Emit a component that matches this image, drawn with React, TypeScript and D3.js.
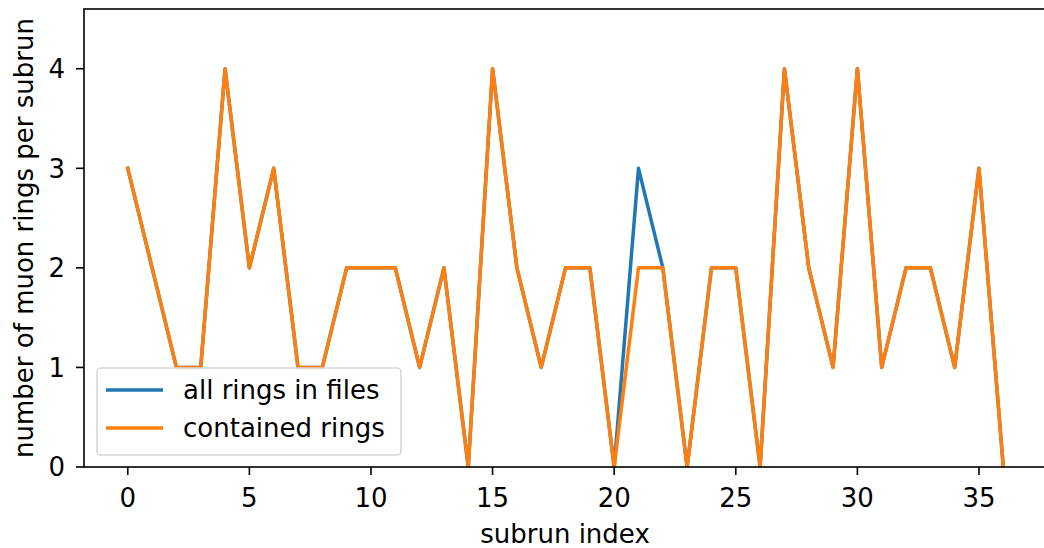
import React from "react";
import * as d3 from "d3";

const subrunIndex = d3.range(0, 37);
const allRings = [3, 2, 1, 1, 4, 2, 3, 1, 1, 2, 2, 2, 1, 2, 0, 4, 2, 1, 2, 2, 0, 3, 2, 0, 2, 2, 0, 4, 2, 1, 4, 1, 2, 2, 1, 3, 0];
const containedRings = [3, 2, 1, 1, 4, 2, 3, 1, 1, 2, 2, 2, 1, 2, 0, 4, 2, 1, 2, 2, 0, 2, 2, 0, 2, 2, 0, 4, 2, 1, 4, 1, 2, 2, 1, 3, 0];
const xTicks = [0, 5, 10, 15, 20, 25, 30, 35];
const yTicks = [0, 1, 2, 3, 4];
const seriesNames = ["all rings in files", "contained rings"];
const colors = ["#1f77b4", "#ff7f0e"];

export default function App() {
  const W = 1044, H = 548;
  const left = 84, top = 9, bottom = 467;
  const x = d3.scaleLinear().domain([-1.8, 37.8]).range([left, 128 + 37.8 * (851 / 35)]);
  const y = d3.scaleLinear().domain([0, 4.6]).range([bottom, top]);
  const right = x(37.8);
  const line = d3.line<number>().x((_, i) => x(subrunIndex[i])).y((d) => y(d));
  const font = "DejaVu Sans, sans-serif";
  const fs = 26;
  return (
    <svg width={W} height={H} style={{ position: "absolute", left: 0, top: 0, background: "#fff" }}>
      <defs>
        <clipPath id="plot">
          <rect x={left} y={top} width={right - left} height={bottom - top} />
        </clipPath>
      </defs>
      <g clipPath="url(#plot)" fill="none" strokeWidth={3.5} strokeLinejoin="round" strokeLinecap="square">
        <path d={line(allRings) || ""} stroke={colors[0]} />
        <path d={line(containedRings) || ""} stroke={colors[1]} />
      </g>
      <rect x={left} y={top} width={right - left} height={bottom - top} fill="none" stroke="#000" strokeWidth={1.6} />
      {xTicks.map((t) => (
        <g key={"x" + t}>
          <line x1={x(t)} x2={x(t)} y1={bottom} y2={bottom + 8} stroke="#000" strokeWidth={1.6} />
          <text x={x(t)} y={507} textAnchor="middle" fontFamily={font} fontSize={fs}>{t}</text>
        </g>
      ))}
      {yTicks.map((t) => (
        <g key={"y" + t}>
          <line x1={left - 8} x2={left} y1={y(t)} y2={y(t)} stroke="#000" strokeWidth={1.6} />
          <text x={left - 19} y={y(t)} dy="0.36em" textAnchor="end" fontFamily={font} fontSize={fs}>{t}</text>
        </g>
      ))}
      <text x={565} y={543} textAnchor="middle" fontFamily={font} fontSize={fs}>subrun index</text>
      <text transform={`translate(33,${(top + bottom) / 2}) rotate(-90)`} textAnchor="middle" fontFamily={font} fontSize={fs}>number of muon rings per subrun</text>
      <g>
        <rect x={97} y={368} width={304} height={87} rx={4} fill="#fff" fillOpacity={0.8} stroke="#d6d6d6" strokeWidth={1.6} />
        {seriesNames.map((n, i) => (
          <g key={n}>
            <line x1={106} x2={163} y1={390 + i * 38} y2={390 + i * 38} stroke={colors[i]} strokeWidth={3.5} />
            <text x={183} y={390 + i * 38} dy="0.36em" fontFamily={font} fontSize={fs}>{n}</text>
          </g>
        ))}
      </g>
    </svg>
  );
}
